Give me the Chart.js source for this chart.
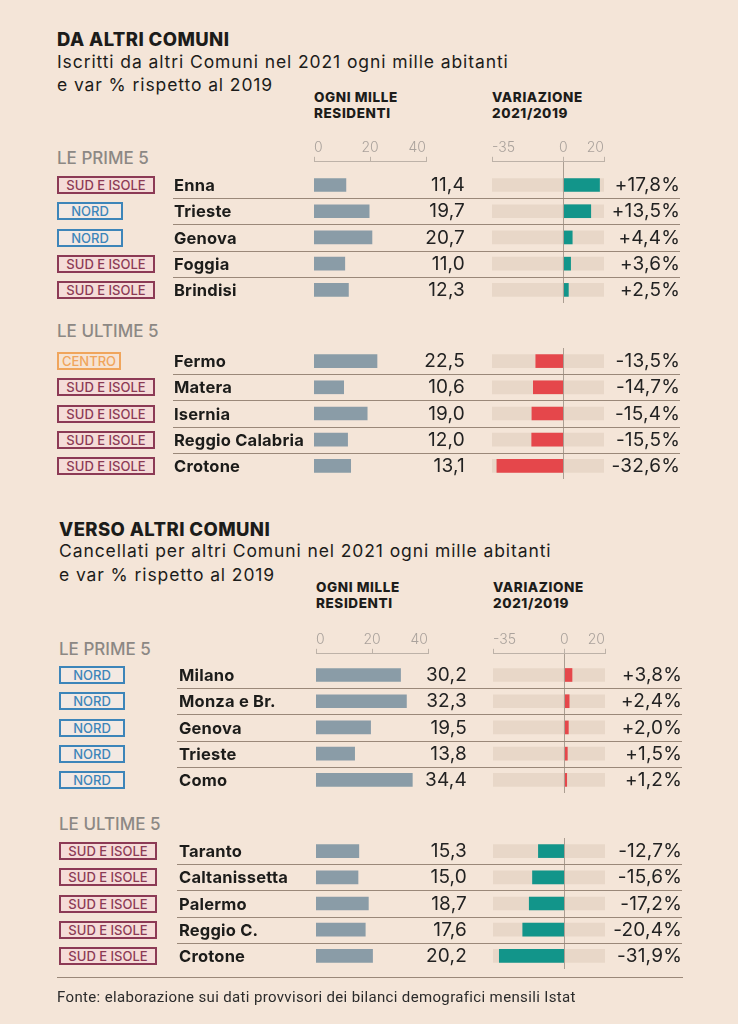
<!DOCTYPE html>
<html>
<head>
<meta charset="utf-8">
<script src="https://cdn.jsdelivr.net/npm/chart.js@4.4.1/dist/chart.umd.min.js"></script>
<style>
  body { margin: 0; background: #f4e5d8; }
  #page { position: relative; width: 738px; height: 1024px; overflow: hidden; font-family: Inter, "Open Sans", sans-serif; color: #1c1c1a; }
  .t { position: absolute; white-space: nowrap; height: 24px; line-height: 24px; }
  .title { font-weight: 800; font-size: 18.5px; letter-spacing: 0.4px; }
  .sub { font-size: 17.5px; font-weight: 400; letter-spacing: 0.9px; }
  .head { font-weight: 800; font-size: 13.5px; letter-spacing: 0.6px; height: 16px; line-height: 16px; }
  .grp { font-weight: 500; font-size: 17px; color: #8c8884; }
  .name { font-weight: 700; font-size: 16.5px; letter-spacing: 0.2px; }
  .num { font-size: 19px; font-weight: 400; color: #222; letter-spacing: 0.2px; }
  .tag { position: absolute; box-sizing: border-box; height: 18px; line-height: 15px; border: 2px solid; font-size: 13px; font-weight: 500; text-align: center; }
  .sep { position: absolute; height: 1px; background: #9a8879; }
  .foot { font-family: Roboto, sans-serif; font-size: 15px; letter-spacing: 0.35px; color: #2b2b2b; }
  canvas { position: absolute; }
</style>
</head>
<body>
<div id="page"></div>
<script>
// ---- data: DA ALTRI COMUNI (iscritti ogni mille abitanti, var % 2021/2019)
const inTopRegions = ['SUD E ISOLE', 'NORD', 'NORD', 'SUD E ISOLE', 'SUD E ISOLE'];
const inTopNames = ['Enna', 'Trieste', 'Genova', 'Foggia', 'Brindisi'];
const inTopRate = [11.4, 19.7, 20.7, 11.0, 12.3];
const inTopVar = [17.8, 13.5, 4.4, 3.6, 2.5];

const inBottomRegions = ['CENTRO', 'SUD E ISOLE', 'SUD E ISOLE', 'SUD E ISOLE', 'SUD E ISOLE'];
const inBottomNames = ['Fermo', 'Matera', 'Isernia', 'Reggio Calabria', 'Crotone'];
const inBottomRate = [22.5, 10.6, 19.0, 12.0, 13.1];
const inBottomVar = [-13.5, -14.7, -15.4, -15.5, -32.6];

// ---- data: VERSO ALTRI COMUNI (cancellati ogni mille abitanti, var % 2021/2019)
const outTopRegions = ['NORD', 'NORD', 'NORD', 'NORD', 'NORD'];
const outTopNames = ['Milano', 'Monza e Br.', 'Genova', 'Trieste', 'Como'];
const outTopRate = [30.2, 32.3, 19.5, 13.8, 34.4];
const outTopVar = [3.8, 2.4, 2.0, 1.5, 1.2];

const outBottomRegions = ['SUD E ISOLE', 'SUD E ISOLE', 'SUD E ISOLE', 'SUD E ISOLE', 'SUD E ISOLE'];
const outBottomNames = ['Taranto', 'Caltanissetta', 'Palermo', 'Reggio C.', 'Crotone'];
const outBottomRate = [15.3, 15.0, 18.7, 17.6, 20.2];
const outBottomVar = [-12.7, -15.6, -17.2, -20.4, -31.9];

// axis ticks
const rateTicks = [0, 20, 40];
const varTicks = [-35, 0, 20];

// ---- styles
const TEAL = '#12958a', RED = '#e5474b', GREY_BAR = '#8a9ca7', VAR_BG = '#e8d7c8';
const tagStyle = {
  'SUD E ISOLE': { w: 98, c: '#8c3a55', bg: '#f5dcd8' },
  'NORD': { w: 66, c: '#3d85b9', bg: '#f3e9e3' },
  'CENTRO': { w: 64, c: '#f0a55c', bg: '#f6e3d3' }
};
const PITCH = 26.25, PAD = 14;

Chart.defaults.font.family = 'Inter, "Open Sans", sans-serif';

const page = document.getElementById('page');

function txt(s, x, cy, cls, right) {
  const d = document.createElement('div');
  d.className = 't ' + cls;
  d.textContent = s;
  d.style.top = (cy - 12) + 'px';
  if (right) d.style.right = (738 - x) + 'px'; else d.style.left = x + 'px';
  page.appendChild(d);
  return d;
}

function canvas(left, top, w, h) {
  const c = document.createElement('canvas');
  c.width = Math.round(w); c.height = Math.round(h);
  c.style.left = left + 'px'; c.style.top = top + 'px';
  page.appendChild(c);
  return c;
}

const fmt = v => v.toFixed(1).replace('.', ',');
const fmtPct = v => (v > 0 ? '+' : '') + fmt(v) + '%';

const zeroLine = {
  id: 'zeroLine',
  afterDatasetsDraw(chart) {
    const x = Math.round(chart.scales.x.getPixelForValue(0)) + 0.5;
    const ctx = chart.ctx;
    ctx.save();
    ctx.strokeStyle = '#ab9e92';
    ctx.lineWidth = 1;
    ctx.beginPath();
    ctx.moveTo(x, 0);
    ctx.lineTo(x, chart.height);
    ctx.stroke();
    ctx.restore();
  }
};

// axis only: the chart area under it stays empty
function axisChart(left, axisY, ticks) {
  const c = canvas(left - PAD, axisY - 24, 112 + 2 * PAD, 56);
  new Chart(c, {
    type: 'bar',
    data: { labels: [], datasets: [] },
    options: {
      indexAxis: 'y', responsive: false, animation: false,
      layout: { padding: { left: PAD, right: PAD, top: 0, bottom: 0 } },
      plugins: { legend: { display: false }, tooltip: { enabled: false } },
      scales: {
        x: {
          type: 'linear', position: 'top', offset: false,
          min: ticks[0], max: ticks[ticks.length - 1],
          afterBuildTicks: s => { s.ticks = ticks.map(v => ({ value: v })); },
          ticks: { color: '#aaa29c', font: { size: 14, weight: 300 }, padding: 1, align: 'inner', maxRotation: 0, autoSkip: false },
          grid: { offset: false, drawOnChartArea: false, drawTicks: true, tickLength: 5, color: '#bdb2a8' },
          border: { display: true, color: '#bdb2a8' }
        },
        y: { display: false }
      }
    }
  });
}

function rateChart(left, top, bandTop, values) {
  const c = canvas(left - PAD, top, 112 + 2 * PAD, bandTop - top + PITCH * values.length);
  new Chart(c, {
    type: 'bar',
    data: { labels: values.map((v, i) => i), datasets: [{ data: values, backgroundColor: GREY_BAR, barThickness: 13 }] },
    options: {
      indexAxis: 'y', responsive: false, animation: false,
      layout: { padding: { left: PAD, right: PAD, top: bandTop - top, bottom: 0 } },
      plugins: { legend: { display: false }, tooltip: { enabled: false } },
      scales: { x: { display: false, min: rateTicks[0], max: rateTicks[rateTicks.length - 1] }, y: { display: false } }
    }
  });
}

function varChart(left, top, bandTop, values, upColor, downColor) {
  const c = canvas(left - PAD, top, 112 + 2 * PAD, bandTop - top + PITCH * values.length);
  const lo = varTicks[0], hi = varTicks[varTicks.length - 1];
  new Chart(c, {
    type: 'bar',
    data: {
      labels: values.map((v, i) => i),
      datasets: [
        { data: values, backgroundColor: values.map(v => v >= 0 ? upColor : downColor), barThickness: 13, order: 1 },
        { data: values.map(() => [lo, hi]), backgroundColor: VAR_BG, barThickness: 13, order: 2 }
      ]
    },
    options: {
      indexAxis: 'y', responsive: false, animation: false,
      datasets: { bar: { grouped: false } },
      layout: { padding: { left: PAD, right: PAD, top: bandTop - top, bottom: 0 } },
      plugins: { legend: { display: false }, tooltip: { enabled: false } },
      scales: { x: { display: false, min: lo, max: hi }, y: { display: false } }
    },
    plugins: [zeroLine]
  });
}

const sections = [
  {
    title: 'DA ALTRI COMUNI',
    sub: ['Iscritti da altri Comuni nel 2021 ogni mille abitanti', 'e var % rispetto al 2019'],
    titleY: 39, subY: [62, 85], headY: [101, 117], axisY: 162, labelY: [158, 331],
    tagX: 57, nameX: 174, rateX: 314, valRight: 465, varX: 492, pctRight: 680, sepX: 173,
    up: TEAL, down: RED,
    groups: [
      { y: 185, regions: inTopRegions, names: inTopNames, rate: inTopRate, vary: inTopVar },
      { y: 361, regions: inBottomRegions, names: inBottomNames, rate: inBottomRate, vary: inBottomVar }
    ]
  },
  {
    title: 'VERSO ALTRI COMUNI',
    sub: ['Cancellati per altri Comuni nel 2021 ogni mille abitanti', 'e var % rispetto al 2019'],
    titleY: 529, subY: [551, 575], headY: [591, 607], axisY: 654, labelY: [649, 824],
    tagX: 59, nameX: 179, rateX: 316, valRight: 467, varX: 493, pctRight: 682, sepX: 177,
    up: RED, down: TEAL,
    groups: [
      { y: 675, regions: outTopRegions, names: outTopNames, rate: outTopRate, vary: outTopVar },
      { y: 851, regions: outBottomRegions, names: outBottomNames, rate: outBottomRate, vary: outBottomVar }
    ]
  }
];

sections.forEach(s => {
  txt(s.title, s.tagX, s.titleY, 'title');
  txt(s.sub[0], s.tagX, s.subY[0], 'sub');
  txt(s.sub[1], s.tagX, s.subY[1], 'sub');
  txt('OGNI MILLE', s.rateX, s.headY[0], 'head');
  txt('RESIDENTI', s.rateX, s.headY[1], 'head');
  txt('VARIAZIONE', s.varX, s.headY[0], 'head');
  txt('2021/2019', s.varX, s.headY[1], 'head');
  txt('LE PRIME 5', s.tagX, s.labelY[0], 'grp');
  txt('LE ULTIME 5', s.tagX, s.labelY[1], 'grp');

  axisChart(s.rateX, s.axisY, rateTicks);
  axisChart(s.varX, s.axisY, varTicks);

  s.groups.forEach((g, gi) => {
    const bandTop = g.y - PITCH / 2;
    const top = gi === 0 ? s.axisY : bandTop;
    rateChart(s.rateX, top, bandTop, g.rate);
    varChart(s.varX, top, bandTop, g.vary, s.up, s.down);

    g.names.forEach((n, i) => {
      const cy = g.y + i * PITCH;
      const st = tagStyle[g.regions[i]];
      const tag = document.createElement('div');
      tag.className = 'tag';
      tag.textContent = g.regions[i];
      tag.style.left = s.tagX + 'px';
      tag.style.top = (cy - 9) + 'px';
      tag.style.width = st.w + 'px';
      tag.style.color = st.c;
      tag.style.borderColor = st.c;
      tag.style.background = st.bg;
      page.appendChild(tag);

      txt(n, s.nameX, cy, 'name');
      txt(fmt(g.rate[i]), s.valRight, cy, 'num', true);
      txt(fmtPct(g.vary[i]), s.pctRight, cy, 'num', true);

      if (i < g.names.length - 1) {
        const sep = document.createElement('div');
        sep.className = 'sep';
        sep.style.left = s.sepX + 'px';
        sep.style.width = (s.pctRight - s.sepX) + 'px';
        sep.style.top = Math.round(cy + PITCH / 2) + 'px';
        page.appendChild(sep);
      }
    });
  });
});

// footer
const rule = document.createElement('div');
rule.className = 'sep';
rule.style.left = '57px'; rule.style.width = '626px'; rule.style.top = '977px';
page.appendChild(rule);
txt('Fonte: elaborazione sui dati provvisori dei bilanci demografici mensili Istat', 57, 997, 'foot');
</script>
</body>
</html>
